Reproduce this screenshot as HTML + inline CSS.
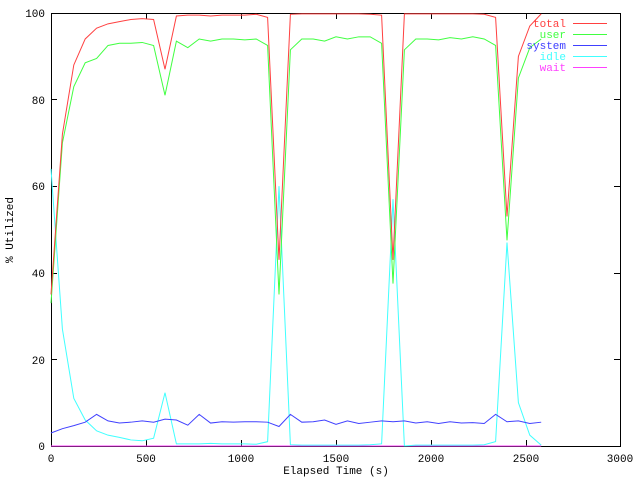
<!DOCTYPE html>
<html><head><meta charset="utf-8"><style>
body{margin:0;background:#fff}
svg{display:block}
text{font-family:"Liberation Mono",monospace;font-size:11px}
</style></head><body>
<svg width="640" height="480" xmlns="http://www.w3.org/2000/svg">
<rect width="640" height="480" fill="#fff"/>
<g stroke="#000" stroke-width="1" fill="none" shape-rendering="crispEdges">
<rect x="51.5" y="13.5" width="569" height="433"/>
<path d="M146.5,446v-6M241.5,446v-6M336.5,446v-6M431.5,446v-6M526.5,446v-6M146.5,13v6M241.5,13v6M336.5,13v6M431.5,13v6M526.5,13v6"/>
<path d="M51,359.5h6M51,273.5h6M51,186.5h6M51,99.5h6M620,359.5h-6M620,273.5h-6M620,186.5h-6M620,99.5h-6"/>
</g>
<g fill="#000" text-anchor="end">
<text x="45" y="450">0</text><text x="45" y="364">20</text><text x="45" y="277">40</text>
<text x="45" y="190">60</text><text x="45" y="104">80</text><text x="45" y="17">100</text>
</g>
<g fill="#000" text-anchor="middle">
<text x="51" y="462">0</text><text x="146" y="462">500</text><text x="241" y="462">1000</text>
<text x="336" y="462">1500</text><text x="431" y="462">2000</text><text x="526" y="462">2500</text><text x="620" y="462">3000</text>
<text x="336" y="474">Elapsed Time (s)</text>
<text transform="translate(13,230) rotate(-90)">% Utilized</text>
</g>
<g transform="translate(51,446) scale(0.19,-4.33)" fill="none" stroke-width="1">
<polyline vector-effect="non-scaling-stroke" stroke="#ff40ff" points="0,0 2580,0"/>
<polyline vector-effect="non-scaling-stroke" stroke="#40ffff" points="0,64 60,27 120,11 180,6 240,3.5 300,2.5 360,2 420,1.4 480,1.2 540,1.8 600,12.3 660,0.5 720,0.5 780,0.5 840,0.6 900,0.5 960,0.5 1020,0.5 1080,0.4 1140,1 1200,60 1260,0.3 1320,0.2 1380,0.2 1440,0.2 1500,0.2 1560,0.2 1620,0.2 1680,0.3 1740,0.5 1800,57 1860,0 1920,0.2 1980,0.2 2040,0.2 2100,0.2 2160,0.2 2220,0.2 2280,0.3 2340,1 2400,47 2460,10 2520,2.5 2580,0.2"/>
<polyline vector-effect="non-scaling-stroke" stroke="#4040ff" points="0,3 60,4 120,4.7 180,5.5 240,7.3 300,5.8 360,5.3 420,5.5 480,5.8 540,5.5 600,6.2 660,6 720,4.8 780,7.3 840,5.3 900,5.6 960,5.5 1020,5.6 1080,5.6 1140,5.5 1200,4.5 1260,7.3 1320,5.5 1380,5.6 1440,6 1500,5 1560,5.8 1620,5.2 1680,5.5 1740,5.8 1800,5.6 1860,5.8 1920,5.3 1980,5.6 2040,5.2 2100,5.6 2160,5.3 2220,5.4 2280,5.2 2340,7.3 2400,5.6 2460,5.8 2520,5.2 2580,5.5"/>
<polyline vector-effect="non-scaling-stroke" stroke="#40ff40" points="0,33 60,70 120,83 180,88.5 240,89.5 300,92.5 360,93 420,93 480,93.2 540,92.5 600,81 660,93.5 720,92 780,94 840,93.5 900,94 960,94 1020,93.8 1080,94 1140,92.5 1200,35 1260,91.5 1320,94 1380,94 1440,93.5 1500,94.5 1560,94 1620,94.5 1680,94.5 1740,93 1800,37.5 1860,91.5 1920,94 1980,94 2040,93.8 2100,94.3 2160,94 2220,94.5 2280,94 2340,92.5 2400,47.5 2460,85 2520,92 2580,94"/>
<polyline vector-effect="non-scaling-stroke" stroke="#ff4040" points="0,35 60,72 120,88 180,94 240,96.5 300,97.5 360,98 420,98.5 480,98.7 540,98.5 600,87 660,99.3 720,99.5 780,99.5 840,99.3 900,99.5 960,99.5 1020,99.5 1080,99.7 1140,99 1200,43 1260,99.7 1320,99.8 1380,99.8 1440,99.8 1500,99.8 1560,99.8 1620,99.8 1680,99.7 1740,99.5 1800,43 1860,99.8 1920,99.8 1980,99.8 2040,99.8 2100,99.8 2160,99.8 2220,99.8 2280,99.7 2340,99 2400,53 2460,90 2520,97 2580,99.8"/>
</g>
<g text-anchor="end">
<text x="566" y="27" fill="#ff4040">total</text>
<text x="566" y="38" fill="#40ff40">user</text>
<text x="566" y="49" fill="#4040ff">system</text>
<text x="566" y="60" fill="#40ffff">idle</text>
<text x="566" y="71" fill="#ff40ff">wait</text>
</g>
<g stroke-width="1" shape-rendering="crispEdges">
<path d="M573,23.5h34" stroke="#ff4040"/>
<path d="M573,34.5h34" stroke="#40ff40"/>
<path d="M573,45.5h34" stroke="#4040ff"/>
<path d="M573,56.5h34" stroke="#40ffff"/>
<path d="M573,67.5h34" stroke="#ff40ff"/>
</g>
</svg>
</body></html>
